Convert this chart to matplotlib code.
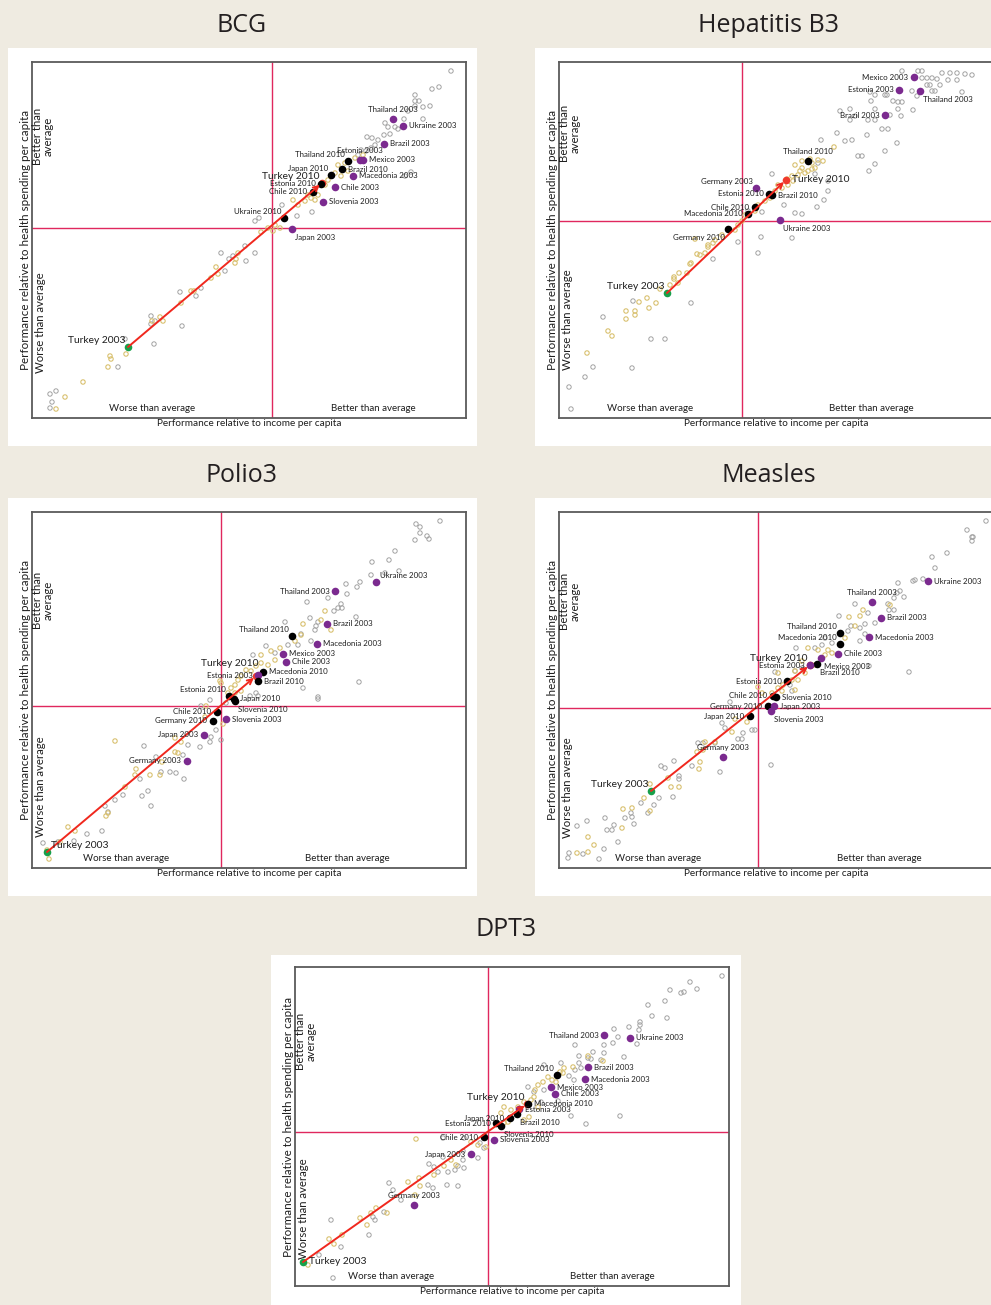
import matplotlib
matplotlib.use("Agg")
import matplotlib.pyplot as plt
from matplotlib.patches import Rectangle

plt.rcParams['font.family'] = ['Lato', 'DejaVu Sans']

# Scores relative to the average: (0, 0) is where the two red lines cross.
# x = performance relative to income per capita
# y = performance relative to health spending per capita

## BCG
bcg_names = ["Thailand 2003", "Ukraine 2003", "Brazil 2003", "Estonia 2003", "Mexico 2003",
             "Macedonia 2003", "Chile 2003", "Slovenia 2003", "Japan 2003", "Thailand 2010",
             "Brazil 2010", "Japan 2010", "Estonia 2010", "Chile 2010", "Ukraine 2010",
             "Turkey 2010", "Turkey 2003"]
bcg_x = [121, 131, 112, 88, 91, 81, 63, 51, 20, 76, 70, 59, 49, 41, 12, 50, -144]
bcg_y = [109, 102, 84, 68, 68, 52, 41, 26, -1, 67, 59, 53, 44, 36, 10, 45, -119]
bcg_grey_x = [179, 167, 160, 143, 143, 147, 143, 151, 158, 136, 151, 132, 113, 116, 123, 126, 118, 112,
              95, 100, 106, 103, 99, 89, 139, 133, 25, 40, 10, -17, -13, 86, 94, -27, -17, -26, -51, -43,
              -39, -47, -71, -92, -76, -121, -121, -117, -90, -118, -147, -154, -222, -216, -220, -222]
bcg_grey_y = [157, 141, 139, 133, 127, 127, 122, 121, 122, 117, 109, 109, 105, 101, 101, 99, 94, 93,
              91, 90, 88, 83, 80, 78, 56, 52, 12, 16, 23, 7, 10, 73, 77, -18, -25, -33, -25, -31,
              -28, -43, -60, -64, -68, -88, -96, -93, -98, -116, -111, -139, -166, -163, -174, -180]
bcg_yellow_x = [66, 73, 83, 91, 63, 69, 76, 56, 53, 46, 39, 33, 36, 26, 21, 43, 3, -4, -11, 8, 1,
                -34, -36, -37, -56, -54, -61, -81, -78, -91, -112, -109, -120, -162, -161, -146,
                -164, -189, -207, -216]
bcg_yellow_y = [63, 65, 70, 73, 55, 52, 57, 48, 43, 33, 30, 27, 33, 23, 28, 28, 3, 0, -4, 0, -3,
                -25, -31, -35, -39, -46, -50, -63, -63, -75, -89, -93, -93, -128, -131, -126,
                -139, -154, -169, -181]

## Hepatitis B3
hep_names = ["Mexico 2003", "Estonia 2003", "Thailand 2003", "Brazil 2003", "Thailand 2010",
             "Turkey 2010", "Germany 2003", "Estonia 2010", "Brazil 2010", "Chile 2010",
             "Macedonia 2010", "Ukraine 2003", "Germany 2010", "Turkey 2003"]
hep_x = [172, 157, 178, 143, 66, 44, 14, 27, 30, 13, 6, 38, -14, -75]
hep_y = [144, 131, 130, 106, 60, 41, 33, 27, 26, 14, 7, 1, -8, -72]
hep_grey_x = [160, 176, 180, 200, 215, 223, 230, 208, 185, 190, 180, 195, 206, 215, 185, 188, 198, 193,
              170, 175, 220, 190, 145, 128, 133, 143, 129, 156, 160, 151, 171, 156, 133, 108, 98, 113,
              108, 126, 133, 148, 159, 140, 146, 125, 143, 155, 133, 127, 79, 95, 103, 110, 116, 120,
              86, 82, 75, 53, 60, 42, 6, 20, 30, -4, 19, 50, 73, 86, 76, 16, -29, -51, -109, -139,
              -91, -77, -110, -149, -157, -173, -171]
hep_grey_y = [150, 150, 150, 148, 148, 147, 146, 148, 143, 143, 143, 142, 141, 141, 136, 136, 136, 130,
              130, 125, 129, 130, 126, 129, 126, 126, 120, 119, 119, 120, 111, 112, 112, 112, 110, 105,
              101, 101, 101, 106, 105, 92, 92, 86, 70, 78, 57, 50, 81, 88, 80, 81, 65, 65,
              30, 21, 14, 8, 7, 16, 10, 9, 47, -21, -16, -17, 47, 40, 58, -32, -38, -82, -80, -96,
              -118, -118, -147, -146, -156, -166, -188]
hep_yellow_x = [53, 60, 70, 76, 81, 56, 50, 51, 63, 73, 46, 36, 33, 40, 28, 23, 16, 13, 3, 0, -4, -7,
                -20, -27, -34, -47, 92, 60, -45, -42, -37, -34, -29, -51, -52, -63, -55, -68, -68, -64,
                -72, -82, -95, -103, -86, -93, -107, -107, -116, -116, -134, -130, -155,
                66, 70, 58, 45, 68]
hep_yellow_y = [56, 53, 58, 61, 60, 46, 45, 40, 48, 53, 36, 36, 30, 33, 23, 20, 16, 10, 6, 0, -4, -9,
                -14, -19, -24, -18, 74, 60, -33, -34, -32, -26, -22, -42, -43, -52, -52, -56, -58, -62,
                -64, -68, -77, -81, -82, -87, -90, -94, -90, -98, -110, -115, -132,
                50, 52, 50, 42, 62]

## Polio3
pol_names = ["Ukraine 2003", "Thailand 2003", "Brazil 2003", "Thailand 2010", "Macedonia 2003",
             "Mexico 2003", "Chile 2003", "Macedonia 2010", "Estonia 2003", "Brazil 2010",
             "Turkey 2010", "Estonia 2010", "Japan 2010", "Slovenia 2010", "Chile 2010",
             "Germany 2010", "Slovenia 2003", "Japan 2003", "Germany 2003", "Turkey 2003"]
pol_x = [155, 114, 106, 71, 96, 62, 65, 42, 37, 37, 35, 8, 13, 14, -4, -8, 5, -17, -34, -174]
pol_y = [124, 115, 82, 70, 62, 52, 44, 34, 31, 25, 30, 10, 7, 5, -6, -15, -13, -29, -55, -146]
pol_grey_x = [219, 195, 199, 199, 206, 208, 194, 174, 168, 151, 178, 164, 150, 139, 136, 125, 126, 120,
              117, 113, 121, 107, 86, 135, 94, 95, 97, 89, 64, 77, 90, 80, 67, 54, 45, 32, 138, 82,
              97, 29, 37, 97, 35, 5, -11, -20, -5, -11, -21, -33, -38, -45, -51, -60, -37, -77, -65,
              -81, -73, -79, -70, -98, -106, -116, -113, -119, -134, -147, -178, -163, 0, -10]
pol_grey_y = [185, 182, 179, 173, 170, 167, 166, 155, 146, 144, 135, 133, 131, 124, 119, 122, 112, 102,
              98, 95, 98, 108, 104, 89, 76, 80, 84, 88, 84, 61, 65, 72, 61, 53, 60, 51, 24, 18,
              9, 10, 10, 7, 13, 3, 6, 0, -24, -36, -41, -39, -49, -67, -66, -66, -73, -40, -51,
              -73, -85, -90, -100, -89, -94, -100, -106, -125, -128, -135, -137, -136, -34, -31]
pol_yellow_x = [82, 104, 110, 100, 74, 80, 59, 50, 40, 54, 47, 40, 35, 30, 25, 20, 17, 14, 10, 0, -1,
                7, 20, 14, -15, -16, 2, -46, -40, -46, -43, -59, -71, -86, -85, -61, -96, -106, -113,
                -115, -153, -146, -161, -172, -174]
pol_yellow_y = [82, 95, 76, 86, 65, 71, 58, 55, 51, 46, 41, 43, 40, 35, 36, 30, 26, 21, 18, 23, 25,
                13, 15, 13, 0, -11, -18, -32, -36, -46, -47, -56, -69, -69, -63, -69, -81, -35, -107,
                -110, -121, -125, -136, -153, -144]

## Measles
mea_names = ["Ukraine 2003", "Thailand 2003", "Brazil 2003", "Thailand 2010", "Macedonia 2010",
             "Macedonia 2003", "Chile 2003", "Mexico 2003", "Brazil 2010", "Estonia 2003",
             "Turkey 2010", "Estonia 2010", "Chile 2010", "Slovenia 2010", "Germany 2010",
             "Japan 2003", "Slovenia 2003", "Japan 2010", "Germany 2003", "Turkey 2003"]
mea_x = [170, 114, 123, 82, 82, 111, 80, 63, 59, 52, 52, 29, 15, 18, 10, 16, 13, -8, -35, -107]
mea_y = [127, 106, 90, 75, 64, 71, 54, 50, 44, 43, 43, 27, 12, 11, 2, 2, -3, -8, -49, -83]
mea_grey_x = [228, 209, 214, 215, 214, 189, 174, 177, 157, 155, 165, 140, 142, 146, 136, 139, 130, 136,
              131, 97, 81, 110, 117, 107, 102, 93, 90, 102, 107, 67, 74, 64, 57, 38, 151, 111, 37, 17,
              34, 32, 44, -3, -6, -15, -16, -20, -36, -33, -28, -55, -60, -43, -38, -66, -84, -97,
              -93, -79, -79, -85, -99, -104, -117, -110, -127, -126, -133, -124, -144, -146, -151,
              -153, -140, -154, -159, -171, -181, -175, -189, -190, 13]
mea_grey_y = [187, 178, 171, 171, 167, 155, 151, 140, 128, 127, 129, 125, 117, 111, 110, 115, 104, 98,
              98, 104, 92, 95, 85, 84, 80, 82, 77, 67, 74, 70, 65, 63, 60, 60, 36, 42, 37, 36,
              17, 23, 40, -22, -22, -25, -31, -31, -15, -20, 6, -35, -35, -35, -64, -58, -53, -58,
              -60, -68, -71, -89, -90, -97, -95, -105, -105, -109, -110, -116, -117, -122, -122,
              -110, -134, -141, -151, -113, -118, -146, -145, -150, -57]
mea_yellow_x = [91, 102, 105, 132, 97, 87, 70, 74, 67, 60, 50, 57, 44, 47, 37, 40, 34, 20, 25, 20, 4,
                0, 14, 24, 37, -26, -11, -23, -43, -53, -55, -61, -58, -59, -90, -87, -79, -108, -114,
                -108, -135, -126, -136, -164, -170, -170, -181]
mea_yellow_y = [91, 92, 98, 103, 82, 70, 58, 55, 53, 58, 60, 43, 47, 35, 37, 28, 28, 35, 23, 20, 15,
                21, 15, 17, 18, -24, -14, -11, -34, -34, -42, -44, -54, -61, -70, -79, -79, -76, -90,
                -103, -101, -100, -120, -137, -129, -144, -145]

## DPT3
dpt_names = ["Thailand 2003", "Ukraine 2003", "Brazil 2003", "Thailand 2010", "Macedonia 2003",
             "Mexico 2003", "Chile 2003", "Macedonia 2010", "Turkey 2010", "Estonia 2003",
             "Japan 2010", "Brazil 2010", "Estonia 2010", "Slovenia 2010", "Chile 2010",
             "Slovenia 2003", "Japan 2003", "Germany 2003", "Turkey 2003"]
dpt_x = [116, 142, 100, 69, 97, 63, 67, 40, 39, 31, 22, 29, 8, 13, -4, 6, -17, -74, -185]
dpt_y = [97, 94, 65, 57, 53, 45, 38, 28, 28, 23, 14, 18, 9, 6, -5, -8, -22, -73, -130]
dpt_grey_x = [234, 202, 209, 182, 193, 196, 177, 160, 164, 179, 152, 152, 151, 141, 126, 130, 125, 116,
              87, 136, 149, 105, 116, 113, 100, 103, 91, 91, 87, 93, 73, 56, 81, 86, 83, 132, 98, 46,
              40, 56, 53, 70, -45, -24, -8, -4, -10, -25, -25, -30, -24, -33, -40, -50, -54, -59, -45,
              -60, -55, -41, -30, -99, -95, -87, -104, -115, -113, -119, -157, -147, -169, -155]
dpt_grey_y = [156, 150, 143, 142, 139, 140, 131, 127, 116, 114, 110, 107, 102, 105, 103, 95, 89, 87,
              87, 75, 88, 80, 79, 72, 74, 73, 76, 69, 62, 64, 69, 67, 56, 52, 16, 16, 8, 40,
              45, 42, 30, 31, -6, -6, -11, -16, -26, -19, -28, -34, -36, -38, -40, -40, -35, -32, -25,
              -53, -56, -53, -54, -51, -58, -68, -80, -85, -88, -103, -88, -115, -123, -146]
dpt_yellow_x = [100, 115, 75, 76, 85, 64, 50, 46, 43, 36, 50, 30, 23, 16, 13, 41, 36, 16, 20, -72, -17,
                -10, -2, -37, -32, -44, -54, -69, -80, -68, -73, -101, -112, -117, -121, -128, -146,
                -154, -159, -180, 60, 68, 55, 72, 47]
dpt_yellow_y = [76, 71, 59, 64, 65, 52, 47, 35, 32, 30, 25, 25, 22, 25, 19, 15, 12, 9, 10, -7, -10,
                -13, -15, -28, -33, -34, -43, -46, -50, -54, -63, -81, -76, -81, -93, -86, -103,
                -112, -107, -133, 55, 50, 50, 60, 42]

# label placement next to each named point (style, not data)
bcg_place = ["a", "r", "r", "a", "r", "r", "r", "r", "rb", "la", "r", "la", "l", "l", "la", "la", "la"]
hep_place = ["l", "l", "rb", "l", "a", "r", "la", "l", "r", "l", "l", "rb", "lb", "la"]
pol_place = ["ra", "l", "r", "la", "r", "r", "r", "r", "l", "r", "ua", "la", "r", "rb", "l", "l", "r",
             "l", "l", "ra"]
mea_place = ["r", "a", "r", "la", "la", "r", "r", "rb", "rb", "l", "la", "l", "l", "r", "l", "r", "rb",
             "l", "a", "la"]
dpt_place = ["l", "r", "r", "la", "r", "r", "r", "r", "la", "r", "l", "rb", "l", "rb", "l", "r", "l",
             "a", "r"]

W, H = 991, 1305
BG = "#efebe1"
PURPLE = "#7b2a8f"
GREEN = "#17a04a"
RED = "#f03a2c"
ARROW = "#f0281e"
CROSS = "#e0285e"
GREY = "#a3a3a3"
YELLOW = "#d9c170"
TEXT = "#1e1e1e"

PLACE = {
    "r": (4, 0, "left", "center"),
    "l": (-4, 0, "right", "center"),
    "a": (0, 4, "center", "bottom"),
    "la": (-2, 5, "right", "center"),
    "ra": (3, 5, "left", "center"),
    "rb": (2, -6, "left", "center"),
    "lb": (-2, -6, "right", "center"),
    "ua": (2, 9, "right", "center"),
}

panels = [
    dict(title="BCG", title_at=(242, 26), card=(8, 48, 477, 446), frame=(32, 62, 466, 418),
         xlim=(-240, 194), ylim=(-190, 166), names=bcg_names, x=bcg_x, y=bcg_y, place=bcg_place,
         grey=(bcg_grey_x, bcg_grey_y), yellow=(bcg_yellow_x, bcg_yellow_y)),
    dict(title="Hepatitis B3", title_at=(769, 26), card=(535, 48, 995, 446), frame=(559, 62, 993, 418),
         xlim=(-183, 251), ylim=(-197, 159), names=hep_names, x=hep_x, y=hep_y, place=hep_place,
         grey=(hep_grey_x, hep_grey_y), yellow=(hep_yellow_x, hep_yellow_y)),
    dict(title="Polio3", title_at=(242, 476), card=(8, 498, 477, 896), frame=(32, 512, 466, 868),
         xlim=(-189, 245), ylim=(-162, 194), names=pol_names, x=pol_x, y=pol_y, place=pol_place,
         grey=(pol_grey_x, pol_grey_y), yellow=(pol_yellow_x, pol_yellow_y)),
    dict(title="Measles", title_at=(769, 476), card=(535, 498, 995, 896), frame=(559, 512, 993, 868),
         xlim=(-199, 235), ylim=(-160, 196), names=mea_names, x=mea_x, y=mea_y, place=mea_place,
         grey=(mea_grey_x, mea_grey_y), yellow=(mea_yellow_x, mea_yellow_y)),
    dict(title="DPT3", title_at=(506, 930), card=(271, 955, 741, 1310), frame=(295, 967, 729, 1286),
         xlim=(-193, 241), ylim=(-154, 165), names=dpt_names, x=dpt_x, y=dpt_y, place=dpt_place,
         grey=(dpt_grey_x, dpt_grey_y), yellow=(dpt_yellow_x, dpt_yellow_y)),
]

fig = plt.figure(figsize=(W / 100, H / 100), dpi=100, facecolor=BG)


def fig_box(x0, y0, x1, y1):
    return [x0 / W, 1 - y1 / H, (x1 - x0) / W, (y1 - y0) / H]


def draw_panel(p):
    cx0, cy0, cx1, cy1 = p["card"]
    fig.add_artist(Rectangle((cx0 / W, 1 - cy1 / H), (cx1 - cx0) / W, (cy1 - cy0) / H,
                             transform=fig.transFigure, facecolor="white", edgecolor="none", zorder=-5))
    tx, ty = p["title_at"]
    fig.text(tx / W, 1 - ty / H, p["title"], ha="center", va="center", fontsize=18,
             family="Open Sans", color="#231f20")

    ax = fig.add_axes(fig_box(*p["frame"]))
    ax.set_xlim(*p["xlim"])
    ax.set_ylim(*p["ylim"])
    ax.set_xticks([])
    ax.set_yticks([])
    for s in ax.spines.values():
        s.set_color("#5b5b5b")
        s.set_linewidth(1.3)
    ax.axvline(0, color=CROSS, lw=1.0, zorder=1)
    ax.axhline(0, color=CROSS, lw=1.0, zorder=1)

    ax.scatter(*p["grey"], s=10, facecolors="none", edgecolors=GREY, linewidths=0.7, zorder=2)
    ax.scatter(*p["yellow"], s=10, facecolors="none", edgecolors=YELLOW, linewidths=0.8, zorder=2)

    pos = dict(zip(p["names"], zip(p["x"], p["y"])))
    t10, t03 = pos["Turkey 2010"], pos["Turkey 2003"]
    ax.scatter([t10[0]], [t10[1]], s=30, color=RED, linewidths=0, zorder=3)
    for n, x, y in zip(p["names"], p["x"], p["y"]):
        if n.startswith("Turkey"):
            continue
        ax.scatter([x], [y], s=30, color=PURPLE if n.endswith("2003") else "black",
                   linewidths=0, zorder=4)
    ax.scatter([t03[0]], [t03[1]], s=30, color=GREEN, linewidths=0, zorder=5)
    ax.annotate("", xy=t10, xytext=t03, zorder=6,
                arrowprops=dict(arrowstyle="->", color=ARROW, lw=1.4, shrinkA=0, shrinkB=2,
                                mutation_scale=9))

    for n, x, y, pl in zip(p["names"], p["x"], p["y"], p["place"]):
        dx, dy, ha, va = PLACE[pl]
        big = n.startswith("Turkey")
        ax.annotate(n, (x, y), xytext=(dx, dy), textcoords="offset points", ha=ha, va=va,
                    fontsize=7.4 if big else 5.7, color=TEXT, zorder=7)

    xl, yl = p["xlim"], p["ylim"]
    cxf = -xl[0] / (xl[1] - xl[0])
    cyf = -yl[0] / (yl[1] - yl[0])
    kw = dict(xycoords="axes fraction", textcoords="offset points", color=TEXT)
    ax.annotate("Worse than average", (cxf / 2, 0), xytext=(0, 6.5), ha="center", va="center",
                fontsize=7.0, **kw)
    ax.annotate("Better than average", ((cxf + 1) / 2, 0), xytext=(3, 6.5), ha="center", va="center",
                fontsize=7.0, **kw)
    ax.annotate("Performance relative to income per capita", (0.5, 0), xytext=(0, -4),
                ha="center", va="center", fontsize=7.2, **kw)
    ax.annotate("Performance relative to health spending per capita", (0, 0.5), xytext=(-5, 0),
                ha="center", va="center", rotation=90, fontsize=8.4, **kw)
    ax.annotate("Better than\naverage", (0, (cyf + 1) / 2), xytext=(8, 6), ha="center", va="center",
                rotation=90, fontsize=8.2, linespacing=0.95, **kw)
    ax.annotate("Worse than average", (0, cyf / 2), xytext=(6, 0), ha="center", va="center",
                rotation=90, fontsize=8.2, **kw)


for p in panels:
    draw_panel(p)

fig.savefig("out.png", dpi=100, facecolor=BG)
